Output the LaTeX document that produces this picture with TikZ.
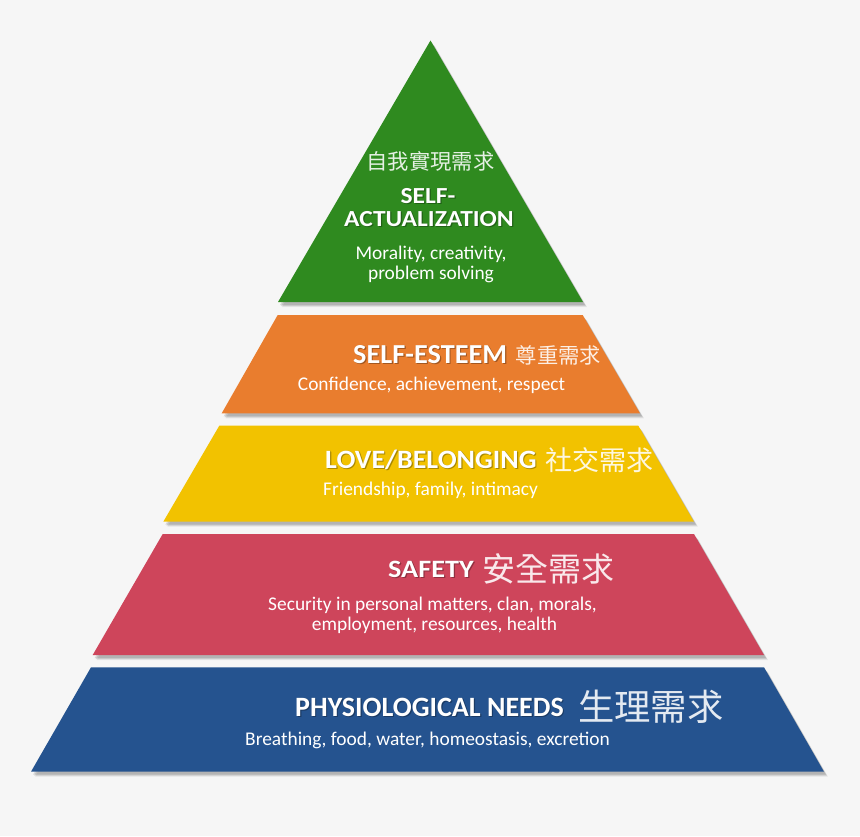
\documentclass[tikz,border=0pt]{standalone}
\usepackage{fontspec}
\setmainfont{Carlito}
\newfontfamily\cjk{Noto Sans CJK TC}
\definecolor{bg}{HTML}{F6F6F6}
\definecolor{cgreen}{HTML}{2F8A1F}
\definecolor{corange}{HTML}{E97D2E}
\definecolor{cyellow}{HTML}{F2C200}
\definecolor{cred}{HTML}{CE455B}
\definecolor{cblue}{HTML}{25538F}
\newcommand\fsz[1]{\fontsize{#1}{#1}\selectfont}
\newcommand\band[2]{%
  \fill[black,opacity=0.07,shift={(4,5)}] #2;
  \fill[black,opacity=0.10,shift={(3,4)}] #2;
  \fill[black,opacity=0.12,shift={(2,3)}] #2;
  \fill[#1] #2;}
% name, position, anchor, size, xscale, text, shadow colour
\newcommand\headtxt[7]{%
  \node[inner sep=0,anchor=#3,text=white,font=\bfseries\fsz{#4}] (#1) at #2
   {\scalebox{#5}[1]{\rlap{\kern1.1pt\raisebox{-1.5pt}{\textcolor{#7}{#6}}}\rlap{\kern0.3pt\raisebox{-0.7pt}{\textcolor{#7}{#6}}}#6}};}
\tikzset{
  sub/.style={inner sep=0,anchor=base,text=white,font=\fsz{19.4}},
  zh/.style={inner sep=0,text=white,text opacity=0.88}
}
\begin{document}
\begin{tikzpicture}[x=1pt,y=-1pt]
\fill[bg] (0,0) rectangle (860,836);
\useasboundingbox (0,0) rectangle (860,836);
% bands
\band{cgreen}{(430.5,40.5) -- (583,302) -- (278,302) -- cycle}
\band{corange}{(277.7,315) -- (582.7,315) -- (640,413.3) -- (221.7,413.3) -- cycle}
\band{cyellow}{(219.3,425.7) -- (638.3,425.7) -- (694,521.7) -- (163.3,521.7) -- cycle}
\band{cred}{(162.7,534) -- (694,534) -- (764,655) -- (92.7,655) -- cycle}
\band{cblue}{(91,667.3) -- (764,667.3) -- (824,771.7) -- (31,771.7) -- cycle}
% green
\node[zh,font=\cjk\fsz{21.3}] (zh1) at (430.5,161) {自我實現需求};
\headtxt{h1a}{(428,203)}{base}{23}{1.11}{SELF-}{cgreen!70!black}
\headtxt{h1b}{(429,226)}{base}{23}{1.11}{ACTUALIZATION}{cgreen!70!black}
\node[sub] (s1a) at (431,259) {Morality, creativity,};
\node[sub] (s1b) at (431,279) {problem solving};
% orange
\headtxt{h2}{(353,363)}{base west}{27.5}{1.03}{SELF-ESTEEM}{corange!70!black}
\node[zh,anchor=west,font=\cjk\fsz{21.3}] (zh2) at (515.5,355) {尊重需求};
\node[sub] (s2) at (431.5,390) {Confidence, achievement, respect};
% yellow
\headtxt{h3}{(325,468)}{base west}{26.5}{1.055}{LOVE/BELONGING}{cyellow!70!black}
\node[zh,anchor=west,font=\cjk\fsz{27}] (zh3) at (545,460) {社交需求};
\node[sub,anchor=base west] (s3) at (323,495) {Friendship, family, intimacy};
% red
\headtxt{h4}{(388,577)}{base west}{25}{1.13}{SAFETY}{cred!70!black}
\node[zh,anchor=west,font=\cjk\fsz{33}] (zh4) at (482,569) {安全需求};
\node[sub] (s4a) at (432.5,610) {Security in personal matters, clan, morals,};
\node[sub] (s4b) at (434.5,630) {employment, resources, health};
% blue
\headtxt{h5}{(295,716)}{base west}{28}{1.0}{PHYSIOLOGICAL NEEDS}{cblue!70!black}
\node[zh,anchor=west,font=\cjk\fsz{36.3}] (zh5) at (578,706.7) {生理需求};
\node[sub] (s5) at (427.5,745) {Breathing, food, water, homeostasis, excretion};
\end{tikzpicture}
\end{document}
